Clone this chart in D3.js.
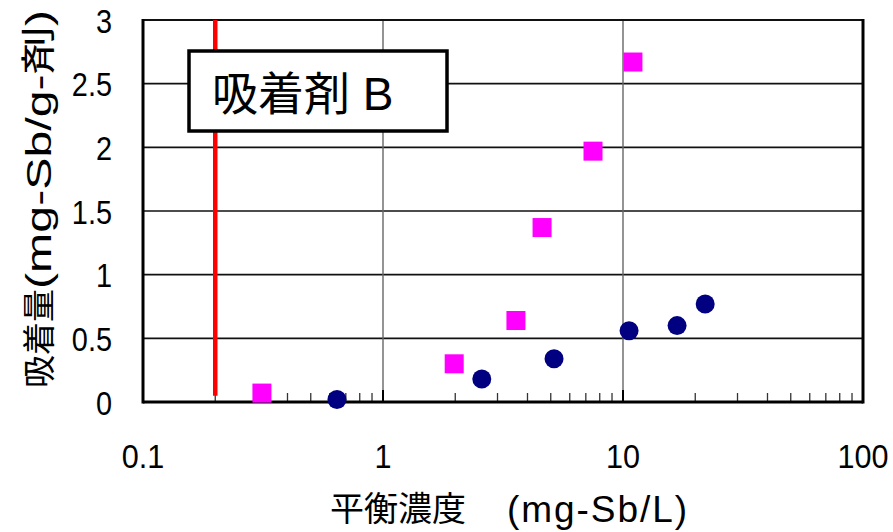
<!DOCTYPE html>
<html>
<head>
<meta charset="utf-8">
<script src="https://cdn.jsdelivr.net/npm/d3@7"></script>
<style>
  html, body { margin: 0; padding: 0; background: #fff; }
  svg { display: block; }
  text { font-family: "Liberation Sans", Arial, "Noto Sans CJK JP", sans-serif; fill: #000; }
</style>
</head>
<body>
<svg id="chart" width="893" height="532"></svg>
<script>
// ---- data ----
const squareX = [0.313, 1.98, 3.58, 4.60, 7.50, 11.0];
const squareY = [0.07, 0.30, 0.64, 1.37, 1.97, 2.67];
const circleX = [0.643, 2.58, 5.16, 10.6, 16.8, 22.0];
const circleY = [0.02, 0.18, 0.34, 0.56, 0.60, 0.77];
const xTickValues = [0.1, 1, 10, 100];
const xTickLabels = ["0.1", "1", "10", "100"];
const yTickValues = [0, 0.5, 1, 1.5, 2, 2.5, 3];
const yTickLabels = ["0", "0.5", "1", "1.5", "2", "2.5", "3"];
const refLineX = [0.2];
const legendLabel = ["吸着剤 B"];
const xTitleParts = ["平衡濃度", "(mg-Sb/L)"];
const yTitleParts = ["吸着量", "(mg-Sb/g-剤)"];

// ---- layout ----
const svg = d3.select("#chart");
const L = 143, R = 863, T = 20, B = 402;
const x = d3.scaleLog().domain([0.1, 100]).range([L, R]);
const y = d3.scaleLinear().domain([0, 3]).range([B, T]);

// horizontal gridlines
svg.append("g").selectAll("line").data(yTickValues.filter(v => v > 0 && v < 3)).join("line")
  .attr("x1", L).attr("x2", R).attr("y1", d => y(d)).attr("y2", d => y(d))
  .attr("stroke", "#111").attr("stroke-width", 1.6);

// vertical gridlines at decades
svg.append("g").selectAll("line").data(xTickValues.filter(v => v > 0.1 && v < 100)).join("line")
  .attr("x1", d => x(d)).attr("x2", d => x(d)).attr("y1", T).attr("y2", B)
  .attr("stroke", "#666").attr("stroke-width", 1.4);

// minor ticks (inside, upward)
const minor = [];
for (let dec = 0.1; dec < 100; dec *= 10) {
  for (let k = 2; k <= 9; k++) minor.push(+(dec * k).toPrecision(3));
}
svg.append("g").selectAll("line").data(minor).join("line")
  .attr("x1", d => x(d)).attr("x2", d => x(d)).attr("y1", B).attr("y2", B - 9)
  .attr("stroke", "#333").attr("stroke-width", 1.3);
svg.append("g").selectAll("line").data(xTickValues).join("line")
  .attr("x1", d => x(d)).attr("x2", d => x(d)).attr("y1", B).attr("y2", B - 12)
  .attr("stroke", "#000").attr("stroke-width", 2);

// frame
svg.append("line").attr("x1", L).attr("x2", R).attr("y1", T).attr("y2", T).attr("stroke", "#111").attr("stroke-width", 2);
svg.append("line").attr("x1", L).attr("x2", L).attr("y1", T - 1).attr("y2", B + 1.5).attr("stroke", "#000").attr("stroke-width", 3);
svg.append("line").attr("x1", R).attr("x2", R).attr("y1", T - 1).attr("y2", B + 1.5).attr("stroke", "#000").attr("stroke-width", 3);
svg.append("line").attr("x1", L).attr("x2", R).attr("y1", B).attr("y2", B).attr("stroke", "#000").attr("stroke-width", 3);

// red reference line
svg.append("g").selectAll("line").data(refLineX).join("line")
  .attr("x1", d => x(d)).attr("x2", d => x(d)).attr("y1", T).attr("y2", y(0.05))
  .attr("stroke", "#ff0000").attr("stroke-width", 4.5);

// legend box
svg.append("rect").attr("x", 189).attr("y", 51).attr("width", 258).attr("height", 80)
  .attr("fill", "#fff").attr("stroke", "#000").attr("stroke-width", 3.5);
svg.append("text").data(legendLabel).attr("x", 212).attr("y", 110)
  .attr("font-size", 46).text(d => d);

// points: squares
const s = 19;
svg.append("g").selectAll("rect").data(squareX.map((v, i) => [v, squareY[i]])).join("rect")
  .attr("x", d => x(d[0]) - s / 2).attr("y", d => y(d[1]) - s / 2)
  .attr("width", s).attr("height", s).attr("fill", "#ff00ff");

// points: circles
svg.append("g").selectAll("circle").data(circleX.map((v, i) => [v, circleY[i]])).join("circle")
  .attr("cx", d => x(d[0])).attr("cy", d => y(d[1])).attr("r", 9.5).attr("fill", "#000080");

// y tick labels
svg.append("g").selectAll("text").data(yTickValues).join("text")
  .attr("transform", d => `translate(112,${y(d) + 12.5}) scale(0.85,1)`)
  .attr("text-anchor", "end")
  .attr("font-size", 34).text((d, i) => yTickLabels[i]);

// x tick labels
svg.append("g").selectAll("text").data(xTickValues).join("text")
  .attr("transform", d => `translate(${x(d)},468) scale(0.9,1)`)
  .attr("text-anchor", "middle").attr("font-size", 34).text((d, i) => xTickLabels[i]);

// x title
svg.append("text").attr("x", 330).attr("y", 521).attr("font-size", 34).text(xTitleParts[0]);
svg.append("text").attr("x", 507).attr("y", 522).attr("font-size", 37)
  .attr("textLength", 180).attr("lengthAdjust", "spacing").text(xTitleParts[1]);

// y title
const yt = svg.append("g").attr("transform", "translate(51,388) rotate(-90)");
yt.append("text").attr("x", 0).attr("y", 0).attr("font-size", 33).text(yTitleParts[0]);
yt.append("text").attr("x", 99).attr("y", 0).attr("font-size", 35)
  .attr("textLength", 279).attr("lengthAdjust", "spacingAndGlyphs").text(yTitleParts[1]);
</script>
</body>
</html>
